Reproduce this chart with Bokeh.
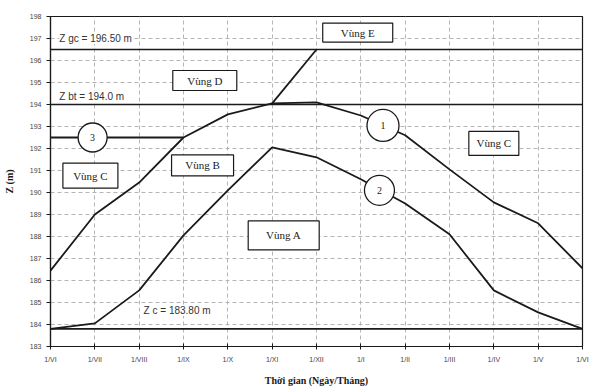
from bokeh.plotting import figure
from bokeh.models import Range1d, FixedTicker, Label, ColumnDataSource
from bokeh.core.properties import value
from bokeh.embed import file_html
from bokeh.resources import INLINE

# ---- data ----
months = ["1/VI", "1/VII", "1/VIII", "1/IX", "1/X", "1/XI", "1/XII",
          "1/I", "1/II", "1/III", "1/IV", "1/V", "1/VI"]
curve1 = [186.45, 189.0, 190.45, 192.5, 193.55, 194.05, 194.1,
          193.5, 192.6, 191.05, 189.55, 188.6, 186.55]
curve2 = [183.8, 184.05, 185.55, 188.05, 190.1, 192.05, 191.6,
          190.6, 189.5, 188.1, 185.55, 184.55, 183.8]
curve3 = [192.5, 192.5, 192.5, 192.5]          # 1/VI .. 1/IX
zoneE_idx = [5, 6]
zoneE_z = [194.05, 196.5]
Z_gc = 196.50
Z_bt = 194.0
Z_c = 183.80
y_ticks = list(range(183, 199))

SERIF = "Liberation Serif"
SANS = "Liberation Sans"
INK = "#1a1a1a"

p = figure(width=590, height=388, output_backend="svg", toolbar_location=None,
           x_range=Range1d(0, 12), y_range=Range1d(183, 198),
           min_border_left=50, min_border_right=8, min_border_top=16,
           min_border_bottom=38)
p.background_fill_color = "white"
p.border_fill_color = "white"
p.outline_line_color = INK
p.outline_line_width = 1.2

# grids
for g in (p.xgrid, p.ygrid):
    g.grid_line_color = "#b5b5b5"
    g.grid_line_dash = "4 3"
    g.grid_line_width = 1

# axes
p.xaxis.ticker = FixedTicker(ticks=list(range(13)))
p.xaxis.major_label_overrides = {i: m for i, m in enumerate(months)}
p.yaxis.ticker = FixedTicker(ticks=y_ticks)
for ax in (p.xaxis[0], p.yaxis[0]):
    ax.axis_line_color = INK
    ax.axis_line_width = 1.2
    ax.major_tick_line_color = INK
    ax.minor_tick_line_color = None
    ax.major_label_text_font = SANS
    ax.major_label_text_font_size = "7px"
    ax.major_label_text_color = "#444444"
    ax.axis_label_text_font = SERIF
    ax.axis_label_text_font_style = "bold"
    ax.axis_label_text_font_size = "10px"
    ax.axis_label_text_color = INK
p.xaxis.major_tick_in = 3
p.xaxis.major_tick_out = 3
p.yaxis.major_tick_in = 0
p.yaxis.major_tick_out = 4
p.xaxis.major_label_standoff = 6
p.yaxis.major_label_standoff = 5
p.xaxis.axis_label = "Thời gian (Ngày/Tháng)"
p.yaxis.axis_label = "Z (m)"
p.xaxis.axis_label_standoff = 9
p.yaxis.axis_label_standoff = 12

idx = list(range(len(months)))

# reference levels
for z in (Z_gc, Z_bt, Z_c):
    p.line([0, 12], [z, z], line_color=INK, line_width=1.6)

# curves
p.line(idx, curve1, line_color=INK, line_width=1.8)
p.line(idx, curve2, line_color=INK, line_width=1.8)
p.line(idx[:len(curve3)], curve3, line_color=INK, line_width=1.8)
p.line(zoneE_idx, zoneE_z, line_color=INK, line_width=1.8)

# level labels
for txt, x, y in [("Z gc = 196.50 m", 0.2, 197.0),
                  ("Z bt = 194.0 m", 0.2, 194.36),
                  ("Z c = 183.80 m", 2.1, 184.64)]:
    p.add_layout(Label(x=x, y=y, text=txt, text_font=SANS, text_font_size="10px",
                       text_color="#333333", text_baseline="middle",
                       background_fill_color="white"))

# zone boxes
zones = dict(
    name=["Vùng D", "Vùng E", "Vùng B", "Vùng C", "Vùng C", "Vùng A"],
    x=[3.48, 6.93, 3.43, 0.9, 10.0, 5.26],
    y=[195.09, 197.27, 191.23, 190.77, 192.23, 188.05],
    w=[64, 70, 62, 55, 50, 71],
    h=[20, 19, 21, 25, 24, 29],
)
zsrc = ColumnDataSource(zones)
p.rect("x", "y", width="w", height="h", width_units="screen", height_units="screen",
       source=zsrc, fill_color="white", line_color=INK, line_width=1.2)
p.text("x", "y", text="name", source=zsrc, text_font=value(SERIF),
       text_font_size="11px", text_color=INK, text_align="center",
       text_baseline="middle")

# numbered circles
circ = dict(lab=["1", "2", "3"], x=[7.5, 7.42, 0.95], y=[193.05, 190.1, 192.5],
            s=[32, 30, 29])
csrc = ColumnDataSource(circ)
p.scatter("x", "y", size="s", source=csrc, marker="circle", fill_color="white",
          line_color=INK, line_width=1.3)
p.text("x", "y", text="lab", source=csrc, text_font=value(SERIF),
       text_font_size="10px", text_color=INK, text_align="center",
       text_baseline="middle")

open("out.html", "w").write(file_html(p, INLINE))
